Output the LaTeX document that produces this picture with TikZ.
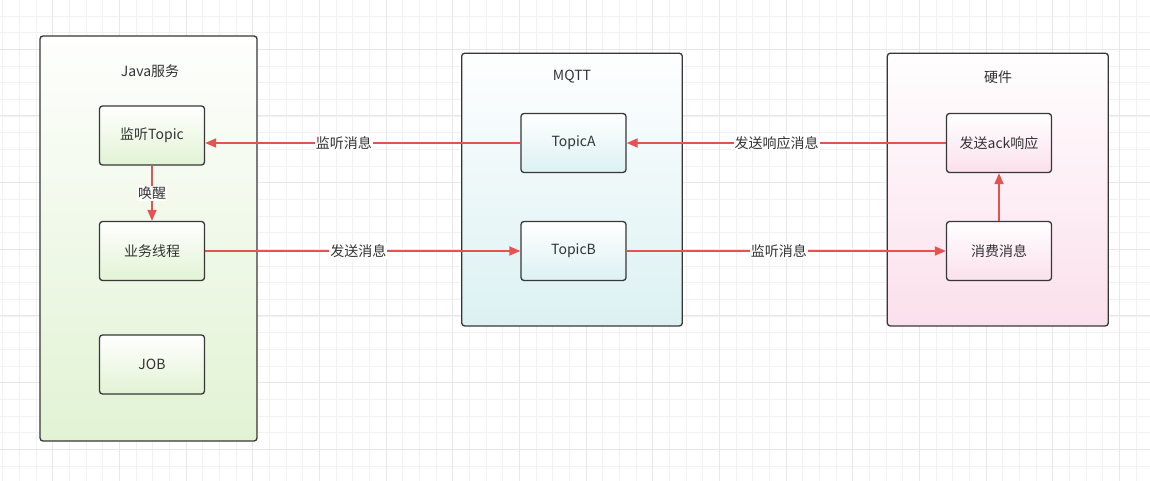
\documentclass[tikz,border=0pt]{standalone}
\usepackage{fontspec}
\setmainfont{Noto Sans CJK SC}
\usetikzlibrary{arrows.meta}
\definecolor{gridminor}{RGB}{242,242,242}
\definecolor{gridmajor}{RGB}{232,232,232}
\definecolor{boxline}{RGB}{55,55,55}
\definecolor{txt}{RGB}{51,51,51}
\definecolor{edgered}{RGB}{228,82,82}
\definecolor{greenbot}{RGB}{226,243,212}
\definecolor{cyanbot}{RGB}{220,241,243}
\definecolor{pinkbot}{RGB}{251,224,236}
\tikzset{
  container/.style={draw=boxline, line width=1.3pt, rounded corners=3pt, inner sep=0pt, top color=white!96!#1, bottom color=#1},
  innerbox/.style={draw=boxline, line width=1.3pt, rounded corners=3pt, inner sep=0pt, minimum width=105pt, minimum height=59pt, top color=white, bottom color=#1, text=txt, font=\fontsize{14}{16}\selectfont},
  title/.style={text=txt, font=\fontsize{14}{16}\selectfont, inner sep=0pt},
  edge/.style={draw=edgered, line width=1.8pt, -{Triangle[length=11pt,width=9pt]}},
  lbl/.style={fill=white, text=txt, font=\fontsize{14}{16}\selectfont, inner sep=1pt},
}
\begin{document}
\begin{tikzpicture}[x=1pt,y=-1pt]
\useasboundingbox (0,0) rectangle (1150,481);
\fill[white] (0,0) rectangle (1150,481);
% grid
\foreach \i in {0,...,69} {\draw[gridminor, line width=0.8pt] ({2.7+16.667*\i},0) -- ({2.7+16.667*\i},481);}
\foreach \i in {0,...,29} {\draw[gridminor, line width=0.8pt] (0,{-0.67+16.667*\i}) -- (1150,{-0.67+16.667*\i});}
\foreach \i in {0,...,17} {\draw[gridmajor, line width=1pt] ({52.7+66.667*\i},0) -- ({52.7+66.667*\i},481);}
\foreach \i in {0,...,7} {\draw[gridmajor, line width=1pt] (0,{49.3+66.667*\i}) -- (1150,{49.3+66.667*\i});}

% containers
\node[container=greenbot, minimum width=217pt, minimum height=405pt] (javaC) at (148.5,238.5) {};
\node[title] (javaT) at (150,71) {Java服务};
\node[container=cyanbot, minimum width=220.6pt, minimum height=272.7pt] (mqttC) at (572,189.6) {};
\node[title] (mqttT) at (572,77) {MQTT};
\node[container=pinkbot, minimum width=221pt, minimum height=272.7pt] (hwC) at (997.8,189.6) {};
\node[title] (hwT) at (998,77) {硬件};

% inner boxes
\node[innerbox=greenbot] (listen) at (152,135.5) {监听Topic};
\node[innerbox=greenbot] (biz) at (152,251) {业务线程};
\node[innerbox=greenbot] (job) at (152,364.5) {JOB};
\node[innerbox=cyanbot] (topicA) at (573.5,143) {TopicA};
\node[innerbox=cyanbot] (topicB) at (573.5,251) {TopicB};
\node[innerbox=pinkbot] (ack) at (999,143) {发送ack响应};
\node[innerbox=pinkbot] (consume) at (999,251) {消费消息};

% edges
\draw[edge] (topicA.west) -- (topicA.west -| listen.east) node[lbl, pos=0.56] {监听消息};
\draw[edge] (listen.south) -- node[lbl] {唤醒} (biz.north);
\draw[edge] (biz.east) -- (topicB.west) node[lbl, pos=0.486] {发送消息};
\draw[edge] (ack.west) -- (topicA.east) node[lbl, pos=0.53] {发送响应消息};
\draw[edge] (topicB.east) -- (consume.west) node[lbl, pos=0.477] {监听消息};
\draw[edge] (consume.north) -- (ack.south);
\end{tikzpicture}
\end{document}
